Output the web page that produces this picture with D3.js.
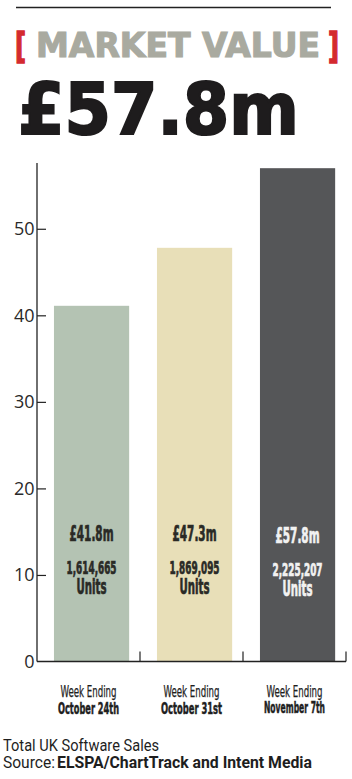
<!DOCTYPE html>
<html><head><meta charset="utf-8">
<script src="https://cdn.jsdelivr.net/npm/d3@7"></script>
<style>
html,body{margin:0;padding:0;background:#fff;}
svg{display:block;}
</style></head>
<body>
<script>
const weeks = ["October 24th", "October 31st", "November 7th"];
const values = [41.1, 47.8, 57.0];
const valueLabels = ["£41.8m", "£47.3m", "£57.8m"];
const unitLabels = ["1,614,665", "1,869,095", "2,225,207"];
const yTicks = [0, 10, 20, 30, 40, 50];
const barColors = ["#b4c3b3", "#e8dfb8", "#555658"];
const labelColors = ["#2a2a26", "#2a2a26", "#f2f2f2"];

const W = 352, H = 779;
const svg = d3.select("body").append("svg").attr("width", W).attr("height", H);

// header
svg.append("line").attr("x1", 16).attr("x2", 331).attr("y1", 7.5).attr("y2", 7.5)
  .attr("stroke", "#222").attr("stroke-width", 1.6);

const heavy = "'DejaVu Sans', Lato, sans-serif";
svg.append("text").attr("x", 15).attr("y", 58)
  .attr("font-family", heavy).attr("font-weight", 700).attr("font-size", 36)
  .attr("fill", "#d42a2f").attr("stroke", "#d42a2f").attr("stroke-width", 1.6)
  .attr("textLength", 11).attr("lengthAdjust", "spacingAndGlyphs").text("[");
svg.append("text").attr("x", 36).attr("y", 57)
  .attr("font-family", heavy).attr("font-weight", 700).attr("font-size", 34)
  .attr("fill", "#a9aaa0").attr("stroke", "#a9aaa0").attr("stroke-width", 1.2)
  .attr("textLength", 284).attr("lengthAdjust", "spacingAndGlyphs")
  .text("MARKET VALUE");
svg.append("text").attr("x", 328).attr("y", 58)
  .attr("font-family", heavy).attr("font-weight", 700).attr("font-size", 36)
  .attr("fill", "#d42a2f").attr("stroke", "#d42a2f").attr("stroke-width", 1.6)
  .attr("textLength", 11).attr("lengthAdjust", "spacingAndGlyphs").text("]");

svg.append("text").attr("x", 18).attr("y", 134)
  .attr("font-family", heavy).attr("font-weight", 700).attr("font-size", 72)
  .attr("fill", "#1e1c1d").attr("stroke", "#1e1c1d").attr("stroke-width", 2.2)
  .attr("textLength", 281).attr("lengthAdjust", "spacingAndGlyphs")
  .text("£57.8m");

// scales
const y = d3.scaleLinear().domain([0, 57.6]).range([661.5, 163]);
const x = d3.scaleBand().domain(weeks).range([37, 346])
  .paddingInner(0.27).paddingOuter(0.135).align(0.61);
const step = x.step();
const x0 = 37;

// bars
svg.append("g").selectAll("rect.bar").data(weeks).join("rect").attr("class", "bar")
  .attr("x", d => x(d)).attr("width", x.bandwidth())
  .attr("y", (d, i) => y(values[i])).attr("height", (d, i) => y(0) - y(values[i]))
  .attr("fill", (d, i) => barColors[i]);

// axes
const yAxis = d3.axisRight(y).tickValues(yTicks.filter(t => t > 0)).tickSize(9).tickFormat("");
const ya = svg.append("g").attr("transform", `translate(${x0},0)`).call(yAxis);
ya.select(".domain").remove();
ya.selectAll("line").attr("stroke", "#222").attr("stroke-width", 1.2);

svg.append("line").attr("x1", x0).attr("x2", x0).attr("y1", 163).attr("y2", y(0))
  .attr("stroke", "#222").attr("stroke-width", 1.3);
svg.append("line").attr("x1", x0).attr("x2", x0 + step * 3).attr("y1", y(0)).attr("y2", y(0))
  .attr("stroke", "#222").attr("stroke-width", 1.5);

svg.selectAll("text.ytick").data(yTicks).join("text").attr("class", "ytick")
  .attr("x", 34.5).attr("y", d => y(d)).attr("dy", "0.36em")
  .attr("text-anchor", "end")
  .attr("font-family", "'Open Sans', sans-serif").attr("font-size", 18)
  .attr("fill", "#2a2a2a").text(d => d);

// x boundary ticks
svg.selectAll("line.xt").data([1, 2, 3]).join("line").attr("class", "xt")
  .attr("x1", d => x0 + d * step).attr("x2", d => x0 + d * step)
  .attr("y1", y(0) - 10).attr("y2", y(0))
  .attr("stroke", "#222").attr("stroke-width", 1.2);

// bar labels
const narrow = "'Liberation Sans Narrow', 'DejaVu Sans Condensed', sans-serif";
const cx = (d) => x(d) + x.bandwidth() / 2;
const off = [0, 0, 2];
const lbl = (cls, arr, yy, fs, len) => svg.selectAll("text." + cls).data(weeks).join("text").attr("class", cls)
  .attr("x", cx).attr("y", (d, i) => yy + off[i]).attr("text-anchor", "middle")
  .attr("font-family", narrow).attr("font-weight", 700).attr("font-size", fs)
  .attr("fill", (d, i) => labelColors[i]).attr("stroke", (d, i) => labelColors[i]).attr("stroke-width", 0.7)
  .attr("textLength", len).attr("lengthAdjust", "spacingAndGlyphs")
  .text((d, i) => arr[i]);
lbl("val", valueLabels, 541, 21, 44);
lbl("units", unitLabels, 573.5, 17, 50);
lbl("u", weeks.map(() => "Units"), 594, 21, 30);

// x category labels
const lx = (d, i) => x0 + (i + 0.5) * step;
svg.selectAll("text.we").data(weeks).join("text").attr("class", "we")
  .attr("x", lx).attr("y", 697).attr("text-anchor", "middle")
  .attr("font-family", narrow).attr("font-size", 15).attr("fill", "#1e1e1e")
  .attr("stroke", "#1e1e1e").attr("stroke-width", 0.25)
  .attr("textLength", 56).attr("lengthAdjust", "spacingAndGlyphs")
  .text("Week Ending");
svg.selectAll("text.wd").data(weeks).join("text").attr("class", "wd")
  .attr("x", lx).attr("y", (d, i) => 714 - (i === 2 ? 1.5 : 0)).attr("text-anchor", "middle")
  .attr("font-family", narrow).attr("font-weight", 700).attr("font-size", 15).attr("fill", "#1e1e1e")
  .attr("stroke", "#1e1e1e").attr("stroke-width", 0.5)
  .attr("textLength", 61).attr("lengthAdjust", "spacingAndGlyphs")
  .text(d => d);

// footer
svg.append("text").attr("x", 3).attr("y", 751)
  .attr("font-family", "Roboto, sans-serif").attr("font-size", 16).attr("fill", "#1e1e1e")
  .attr("textLength", 156).attr("lengthAdjust", "spacingAndGlyphs")
  .text("Total UK Software Sales");
svg.append("text").attr("x", 3).attr("y", 768)
  .attr("font-family", "Roboto, sans-serif").attr("font-size", 16).attr("fill", "#1e1e1e")
  .attr("textLength", 52).attr("lengthAdjust", "spacingAndGlyphs").text("Source:");
svg.append("text").attr("x", 57).attr("y", 768)
  .attr("font-family", "Roboto, sans-serif").attr("font-weight", 700).attr("font-size", 16).attr("fill", "#1e1e1e")
  .attr("textLength", 255).attr("lengthAdjust", "spacingAndGlyphs")
  .text("ELSPA/ChartTrack and Intent Media");
</script>
</body></html>
